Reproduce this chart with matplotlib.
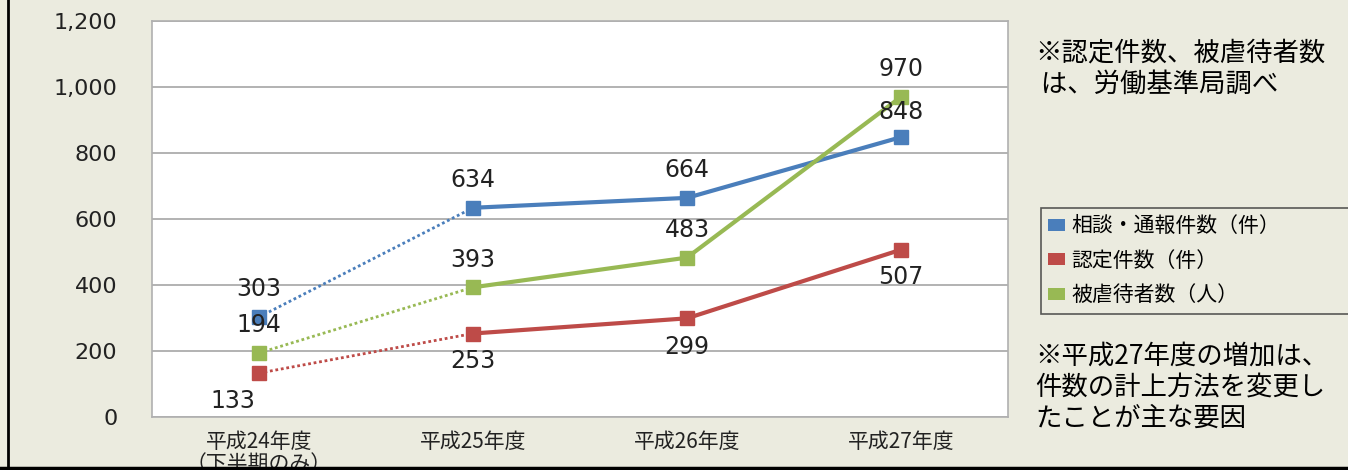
import matplotlib
matplotlib.use('Agg')
from matplotlib import pyplot as plt
from matplotlib.patches import Patch
from matplotlib.lines import Line2D

plt.rcParams['font.family'] = ['Noto Sans CJK JP', 'DejaVu Sans']

years = ['平成24年度\n（下半期のみ）', '平成25年度', '平成26年度', '平成27年度']
soudan = [303, 634, 664, 848]
nintei = [133, 253, 299, 507]
higyaku = [194, 393, 483, 970]
names = ['相談・通報件数（件）', '認定件数（件）', '被虐待者数（人）']
colors = ['#4A7EBB', '#BE4B48', '#98B954']
yticks = [0, 200, 400, 600, 800, 1000, 1200]

bg = '#EBEBDF'
fig = plt.figure(figsize=(13.48, 4.70), dpi=100, facecolor=bg)
ax = fig.add_axes([152 / 1348, 53 / 470, 856 / 1348, 396 / 470])
ax.set_facecolor('white')

x = list(range(len(years)))
series = [soudan, nintei, higyaku]
# label offsets in points (dx, dy) for each series / point
offsets = [
    [(0, 20), (0, 20), (0, 20), (0, 18)],
    [(-19, -20), (0, -20), (0, -21), (0, -20)],
    [(0, 20), (0, 20), (0, 20), (0, 20)],
]
for vals, col, offs in zip(series, colors, offsets):
    ax.plot(x[:2], vals[:2], color=col, lw=2, ls=(0, (1, 1)), zorder=3)
    ax.plot(x[1:], vals[1:], color=col, lw=3, zorder=3)
    ax.plot(x, vals, ls='none', marker='s', ms=10, color=col, zorder=4)
    for xi, v, (dx, dy) in zip(x, vals, offs):
        ax.annotate(str(v), (xi, v), xytext=(dx, dy), textcoords='offset points',
                    ha='center', va='center', fontsize=17, color='#222222',
                    family='DejaVu Sans', zorder=5)

ax.set_xlim(-0.5, 3.5)
ax.set_ylim(0, 1200)
ax.set_yticks(yticks)
ax.set_yticklabels([f'{t:,}' for t in yticks], family='DejaVu Sans', fontsize=16,
                   color='#222222')
ax.set_xticks(x)
ax.set_xticklabels(years, fontsize=15, color='#222222', linespacing=1.05)
ax.tick_params(axis='y', length=0, pad=25)
ax.tick_params(axis='x', length=0, pad=10)
ax.grid(axis='y', color='#A6A6A6', lw=1.2)
ax.set_axisbelow(True)
for s in ax.spines.values():
    s.set_color('#B0B0B0')
    s.set_linewidth(1.2)

handles = [Patch(facecolor=c, edgecolor='none') for c in colors]
leg = fig.legend(handles, names, loc='upper left', mode='expand',
                 bbox_to_anchor=(1041 / 1348, 1 - 208 / 470, 310 / 1348, 0),
                 borderaxespad=0,
                 fontsize=15, frameon=True, fancybox=False, facecolor=bg,
                 edgecolor='#333333', handlelength=0.8, handleheight=0.5,
                 handletextpad=0.3, labelspacing=0.6, borderpad=0.35)
leg.get_frame().set_linewidth(1.2)

fig.text(1035 / 1348, 1 - 69 / 470, '※認定件数、被虐待者数\n は、労働基準局調べ',
         fontsize=19, va='center', ha='left', linespacing=1.2)
fig.text(1035 / 1348, 1 - 387 / 470, '※平成27年度の増加は、\n件数の計上方法を変更し\nたことが主な要因',
         fontsize=19, va='center', ha='left', linespacing=1.2)

fig.add_artist(Line2D([8 / 1348, 8 / 1348], [0, 1], color='black', lw=2))
fig.add_artist(Line2D([0, 1], [2 / 470, 2 / 470], color='black', lw=2.5))

fig.savefig('out.png', dpi=100, facecolor=bg)
